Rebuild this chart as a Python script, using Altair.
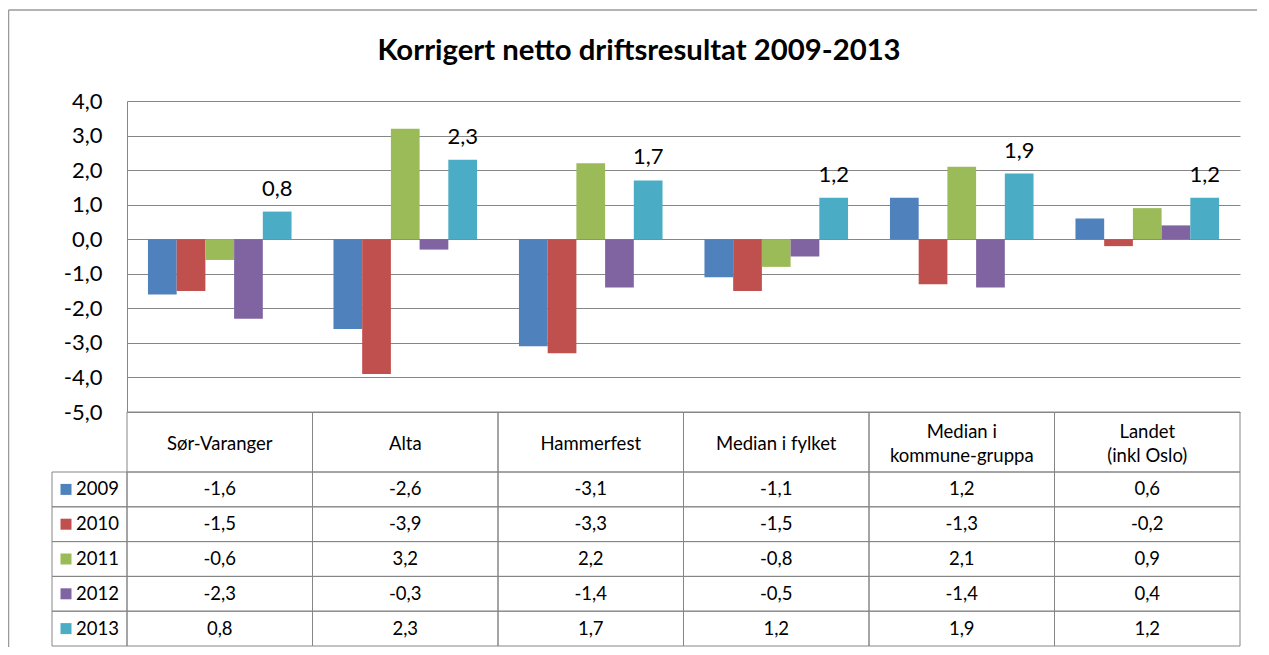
import altair as alt
import pandas as pd

title_text = "Korrigert netto driftsresultat 2009-2013"
categories = ["Sør-Varanger", "Alta", "Hammerfest", "Median i fylket",
              "Median i\nkommune-gruppa", "Landet\n(inkl Oslo)"]
years = ["2009", "2010", "2011", "2012", "2013"]
v2009 = [-1.6, -2.6, -3.1, -1.1, 1.2, 0.6]
v2010 = [-1.5, -3.9, -3.3, -1.5, -1.3, -0.2]
v2011 = [-0.6, 3.2, 2.2, -0.8, 2.1, 0.9]
v2012 = [-2.3, -0.3, -1.4, -0.5, -1.4, 0.4]
v2013 = [0.8, 2.3, 1.7, 1.2, 1.9, 1.2]
colors = ["#4F81BD", "#C0504D", "#9BBB59", "#8064A2", "#4BACC6"]
y_ticks = [-5, -4, -3, -2, -1, 0, 1, 2, 3, 4]

rows = []
for yr, vals in zip(years, [v2009, v2010, v2011, v2012, v2013]):
    for c, v in zip(categories, vals):
        rows.append({"category": c, "year": yr, "value": v,
                     "label": f"{v:.1f}".replace(".", ",")})
df = pd.DataFrame(rows)
cat_df = pd.DataFrame({"category": categories})
year_df = pd.DataFrame({"year": years})
one = pd.DataFrame({"t": [title_text]})

W = 1113
BAR_H = 311
HEAD_H = 60
ROW_H = 34.8
H = BAR_H + HEAD_H + 5 * ROW_H
GRID = "#868686"
FONT = "Lato"
TFS = 18.5
LH = 24

x_enc = alt.X("category:N", sort=categories,
              scale=alt.Scale(domain=categories, paddingInner=0, paddingOuter=0),
              axis=None)
xoff = alt.XOffset("year:N", scale=alt.Scale(domain=years, paddingInner=0, paddingOuter=0.73))
color_enc = alt.Color("year:N", scale=alt.Scale(domain=years, range=colors), legend=None)
yscale = alt.Scale(domain=[-5, 4], range=[BAR_H, 0], nice=False, zero=False)
comma = "replace(replace(format(datum.value, '.1f'), '.', ','), '\u2212', '-')"

bars = alt.Chart(df).mark_bar().encode(
    x=x_enc, xOffset=xoff,
    y=alt.Y("value:Q", scale=yscale,
            axis=alt.Axis(values=y_ticks, labelExpr=comma, grid=True, gridColor=GRID,
                          gridOpacity=1, domainColor=GRID, ticks=False, labelFontSize=22,
                          labelFont=FONT, labelColor="black", labelPadding=25, title=None)),
    color=color_enc,
)

labels = alt.Chart(df).transform_filter("datum.year == '2013'").mark_text(
    font=FONT, fontSize=22, baseline="alphabetic", dy=-16, color="black"
).encode(
    x=x_enc, xOffset=xoff,
    y=alt.Y("value:Q", scale=yscale, axis=None),
    text="label:N",
)

yt = alt.Scale(domain=years, range=[BAR_H + HEAD_H, H], paddingInner=0, paddingOuter=0)
yt_enc = alt.Y("year:N", scale=yt, axis=None)

head_rect = alt.Chart(cat_df).mark_rect(fillOpacity=0, stroke=GRID, strokeWidth=1).encode(
    x=x_enc, y=alt.value(BAR_H), y2=alt.value(BAR_H + HEAD_H))
head_text1 = alt.Chart(cat_df).transform_filter(
    "indexof(datum.category, '\\n') < 0"
).mark_text(font=FONT, fontSize=TFS, dy=2, color="black").encode(
    x=x_enc, y=alt.value(BAR_H + HEAD_H / 2), text="category:N")
head_text2 = alt.Chart(cat_df).transform_filter(
    "indexof(datum.category, '\\n') >= 0"
).mark_text(font=FONT, fontSize=TFS, lineBreak="\n", lineHeight=LH, dy=-LH / 2 + 2,
            color="black").encode(
    x=x_enc, y=alt.value(BAR_H + HEAD_H / 2), text="category:N")

cells = alt.Chart(df).mark_rect(fillOpacity=0, stroke=GRID, strokeWidth=1).encode(
    x=x_enc, y=yt_enc)
cell_text = alt.Chart(df).mark_text(font=FONT, fontSize=TFS, color="black").encode(
    x=x_enc, y=yt_enc, text="label:N")

leg_rect = alt.Chart(year_df).mark_rect(fillOpacity=0, stroke=GRID, strokeWidth=1).encode(
    x=alt.value(-75), x2=alt.value(0), y=yt_enc)
leg_sq = alt.Chart(year_df).mark_square(size=121, opacity=1).encode(
    x=alt.value(-61), y=yt_enc, color=color_enc)
leg_text = alt.Chart(year_df).mark_text(font=FONT, fontSize=TFS, align="left", color="black").encode(
    x=alt.value(-51), y=yt_enc, text="year:N")

frame_top = alt.Chart(one).mark_rule(color="#9a9a9a", strokeWidth=1.5).encode(
    x=alt.value(-118.5), x2=alt.value(1130), y=alt.value(-91))
frame_left = alt.Chart(one).mark_rule(color="#9a9a9a", strokeWidth=1.5).encode(
    x=alt.value(-118.5), y=alt.value(-91), y2=alt.value(560))

title = alt.Chart(one).mark_text(font=FONT, fontSize=29.3, fontWeight="bold", color="black",
                                 baseline="alphabetic").encode(
    x=alt.value(512), y=alt.value(-41), text="t:N")

chart = alt.layer(
    frame_top, frame_left, title,
    bars, labels, head_rect, head_text1, head_text2, cells, cell_text,
    leg_rect, leg_sq, leg_text
).resolve_scale(y="independent").properties(
    width=W, height=H,
    autosize=alt.AutoSizeParams(type="none"),
    padding={"left": 119, "top": 93, "right": 20, "bottom": 1},
    background="white",
).configure_view(stroke=None)

chart.save("out.html", embed_options={"renderer": "svg", "actions": False})
